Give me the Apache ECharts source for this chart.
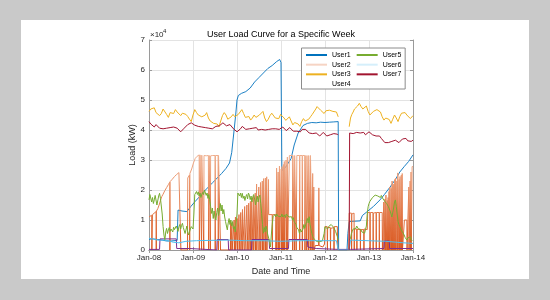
<!DOCTYPE html>
<html>
<head>
<meta charset="utf-8">
<script src="https://cdn.jsdelivr.net/npm/echarts/dist/echarts.min.js"></script>
<style>
html,body{margin:0;padding:0;background:#c9c9c9;}
#panel{position:absolute;left:21px;top:20px;width:508px;height:259px;background:#fff;}
#main{position:absolute;left:0;top:0;width:550px;height:300px;}
</style>
</head>
<body>
<div id="panel"></div>
<div id="main"></div>
<script>
// x = day of January, y = load in units of 1e4 kW
var dayTicks = [8, 9, 10, 11, 12, 13, 14];
var dayLabels = ['Jan-08', 'Jan-09', 'Jan-10', 'Jan-11', 'Jan-12', 'Jan-13', 'Jan-14'];
var seriesNames = ['User1', 'User2', 'User3', 'User4', 'User5', 'User6', 'User7'];

var user1 = [[8.00,0.36],[8.10,0.37],[8.20,0.35],[8.30,0.33],[8.40,0.30],[8.50,0.30],[8.64,0.32],[8.66,1.33],[8.75,1.30],[8.86,1.28],
  [8.95,1.45],[9.05,1.62],[9.15,1.78],[9.25,1.95],[9.35,2.10],[9.45,2.25],[9.55,2.40],[9.65,2.55],[9.75,2.72],[9.83,2.90],
  [9.88,3.25],[9.92,3.80],[9.97,4.50],[10.00,5.00],[10.03,5.15],[10.10,5.22],[10.20,5.28],[10.30,5.40],[10.40,5.60],[10.50,5.75],
  [10.60,5.90],[10.70,6.05],[10.80,6.15],[10.90,6.28],[10.97,6.35],[11.00,6.25],[11.02,2.65],[11.10,2.75],[11.23,3.05],[11.30,3.50],
  [11.39,3.90],[11.50,4.15],[11.60,4.22],[11.70,4.25],[11.80,4.24],[11.90,4.26],[12.00,4.25],[12.10,4.26],[12.20,4.27],[12.30,4.28],
  [12.31,0],[12.50,0],[12.52,0.55],[12.55,0.95],[12.80,0.97],[12.85,1.15],[13.00,1.33],[13.10,1.45],[13.25,1.67],[13.35,1.85],
  [13.48,2.10],[13.60,2.35],[13.70,2.60],[13.80,2.78],[13.90,2.95],[14.00,3.17]];

var user2 = [[8.00,1.10],[8.03,1.13],[8.06,1.16],[8.065,0],[8.075,0],[8.08,1.18],[8.12,1.22],[8.16,1.28],[8.165,0],[8.17,1.30],
  [8.20,1.38],[8.23,1.50],[8.26,1.65],[8.29,1.78],[8.32,1.86],[8.36,1.98],[8.40,2.08],[8.44,2.18],[8.47,2.26],[8.475,0],
  [8.48,2.28],[8.53,2.36],[8.58,2.45],[8.63,2.52],[8.68,2.58],[8.72,2.63],[8.725,0],[8.875,0],
  [8.88,2.40],[8.92,2.50],[8.925,0],[8.93,2.55],[8.97,2.70],[9.01,2.90],[9.05,3.05],[9.09,3.12],[9.12,3.17],[9.14,3.17],[9.145,0],
  [9.155,0],[9.16,3.17],[9.19,3.16],[9.195,0],[9.20,3.16],[9.24,3.15],[9.245,0],[9.25,3.15],[9.30,3.14],[9.35,3.15],[9.355,0],
  [9.365,0],[9.37,3.15],[9.39,3.15],[9.395,0],[9.40,3.14],[9.45,3.15],[9.50,3.15],[9.505,0],[9.51,3.15],[9.57,3.15],[9.575,0],
  [9.58,3.15],[9.62,3.15],[9.625,0],
  [9.85,0],[9.855,0.95],[9.86,0],[9.88,0],[9.885,0.90],[9.89,0],[9.93,0],[9.935,1.00],[9.94,0],
  [9.96,0],[9.965,1.10],[9.97,0],[10.00,0],[10.005,1.05],[10.01,0],[10.04,0],[10.045,1.18],[10.05,0],[10.08,0],[10.085,1.25],[10.09,0],
  [10.12,0],[10.125,1.35],[10.13,0],[10.17,0],[10.175,1.45],[10.18,0],[10.22,0],[10.225,1.50],[10.23,0],[10.26,0],[10.265,1.56],[10.27,0],
  [10.30,0],[10.305,1.62],[10.31,0],[10.33,0],[10.335,1.72],[10.34,0],[10.37,0],[10.375,1.80],[10.38,0],[10.41,0],[10.415,1.90],[10.42,0],
  [10.44,0],[10.445,2.20],[10.45,0],[10.49,0],[10.495,2.10],[10.50,0],[10.53,0],[10.535,2.25],[10.54,0],[10.57,0],[10.575,2.30],[10.58,0],
  [10.60,0],[10.605,2.38],[10.61,0],[10.64,0],[10.645,2.40],[10.65,0],[10.67,0],[10.675,2.44],[10.68,0],[10.71,0],[10.715,2.35],
  [10.72,1.18],[10.80,1.18],[10.805,0],[10.81,1.18],[10.88,1.18],[10.885,0],[10.895,0],[10.90,2.73],[10.905,0],
  [10.93,0],[10.935,2.60],[10.94,0],[10.96,0],[10.965,2.80],[10.97,0],[11.00,0],[11.005,2.70],[11.01,0],[11.02,0],[11.025,2.78],[11.03,0],
  [11.05,0],[11.055,2.85],[11.06,0],[11.07,0],[11.075,2.95],[11.08,0],[11.11,0],[11.115,3.00],[11.12,0],[11.14,0],[11.145,3.10],[11.15,0],
  [11.18,0],[11.19,3.15],[11.26,3.15],[11.265,0],[11.27,3.15],[11.30,3.15],[11.305,0],[11.31,3.15],[11.34,3.15],[11.345,0],
  [11.355,0],[11.36,3.15],[11.42,3.15],[11.425,0],[11.43,3.15],[11.48,3.15],[11.485,0],[11.49,3.15],[11.54,3.15],[11.545,0],
  [11.55,3.15],[11.58,3.15],[11.585,0],[11.59,3.15],[11.62,3.15],[11.625,0],[11.63,3.15],[11.66,3.15],[11.665,0],[11.67,3.15],
  [11.70,3.15],[11.705,0],[11.715,0],[11.72,2.55],[11.725,0],[11.74,0],[11.745,2.10],[11.75,0],[11.78,0.15],[11.82,0.12],
  [11.855,0.15],[11.86,2.07],[11.865,0.15],[11.90,0.18],[11.95,0.10],[11.99,0.20],[12.00,0.78],[12.05,0.78],[12.055,0],
  [12.06,0.75],[12.12,0.75],[12.125,0],[12.13,0.72],[12.20,0.75],[12.205,0],[12.21,0.78],[12.28,0.78],[12.29,0],
  [12.54,0],[12.55,1.23],[12.60,1.23],[12.605,0],[12.61,1.20],[12.66,1.23],[12.665,0],[12.67,0.70],[12.72,0.70],[12.725,0],
  [12.73,0.68],[12.80,0.70],[12.805,0],[12.81,0.68],[12.88,0.68],[12.885,0],[12.89,0.70],[12.96,0.68],[12.97,1.25],[13.02,1.25],
  [13.025,0],[13.03,1.25],[13.09,1.25],[13.095,0],[13.10,1.23],[13.16,1.25],[13.165,0],[13.17,1.25],[13.23,1.25],[13.235,0],
  [13.24,1.25],[13.30,1.25],[13.305,0],[13.33,0],[13.335,1.60],[13.34,0],[13.36,0],[13.365,1.70],[13.37,0],[13.38,0],[13.385,1.83],[13.39,0],
  [13.41,0],[13.415,1.65],[13.42,0],[13.43,0],[13.435,1.75],[13.44,0],[13.45,0],[13.455,1.95],[13.46,0],[13.47,0],[13.475,2.10],[13.48,0],
  [13.50,0],[13.505,2.05],[13.51,0],[13.52,0],[13.525,2.30],[13.53,0],[13.54,0],[13.545,2.15],[13.55,0],[13.56,0],[13.565,2.20],[13.57,0],
  [13.58,0],[13.585,2.35],[13.59,0],[13.60,0],[13.605,2.40],[13.61,0],[13.63,0],[13.635,2.30],[13.64,0],[13.65,0],[13.655,2.57],[13.66,0],
  [13.68,0],[13.685,2.35],[13.69,0],[13.70,0],[13.705,2.45],[13.71,0],[13.73,0],[13.735,2.50],[13.74,0],[13.75,0],[13.755,2.55],[13.76,0],
  [13.80,0],[13.805,1.00],[13.86,1.00],[13.865,0],[13.90,0],[13.905,2.10],[13.91,0],[13.93,0],[13.935,2.30],[13.94,0],
  [13.95,0],[13.955,2.60],[13.96,0],[13.975,0],[13.98,2.78],[14.00,2.78]];

var user3 = [[8.00,4.62],[8.04,4.70],[8.08,4.66],[8.12,4.74],[8.16,4.58],[8.20,4.62],[8.24,4.48],[8.28,4.55],[8.32,4.70],[8.36,4.66],
  [8.40,4.52],[8.44,4.42],[8.48,4.58],[8.52,4.62],[8.56,4.55],[8.60,4.68],[8.64,4.60],[8.68,4.62],[8.72,4.48],[8.76,4.56],
  [8.80,4.60],[8.84,4.52],[8.88,4.45],[8.92,4.36],[8.96,4.28],[9.00,4.50],[9.04,4.68],[9.08,4.58],[9.12,4.50],[9.16,4.56],
  [9.20,4.44],[9.24,4.38],[9.28,4.50],[9.31,4.58],[9.35,4.40],[9.39,4.30],[9.43,4.34],[9.47,4.22],[9.51,4.17],[9.55,4.20],
  [9.59,4.11],[9.63,4.30],[9.67,4.48],[9.71,4.58],[9.75,4.50],[9.79,4.36],[9.83,4.32],[9.87,4.44],[9.91,4.52],[9.95,4.44],
  [9.99,4.40],[10.03,4.52],[10.07,4.58],[10.11,4.68],[10.15,4.55],[10.19,4.42],[10.23,4.36],[10.27,4.45],[10.31,4.33],[10.35,4.40],
  [10.39,4.50],[10.43,4.42],[10.47,4.38],[10.51,4.50],[10.55,4.48],[10.59,4.62],[10.63,4.40],[10.67,4.28],[10.71,4.36],[10.75,4.48],
  [10.79,4.56],[10.83,4.50],[10.87,4.40],[10.91,4.44],[10.95,4.38],[10.99,4.52],[11.03,4.48],[11.07,4.40],[11.11,4.32],[11.15,4.38],
  [11.19,4.44],[11.23,4.30],[11.27,4.17],[11.31,4.25],[11.35,4.30],[11.39,4.20],[11.43,4.12],[11.47,4.28],[11.51,4.38],[11.55,4.30],
  [11.59,4.26],[11.63,4.36],[11.67,4.44],[11.71,4.52],[11.75,4.58],[11.79,4.70],[11.82,4.78],[11.86,4.72],[11.90,4.66],[11.94,4.60],
  [11.98,4.55],[12.02,4.64],[12.06,4.70],[12.10,4.66],[12.14,4.70],[12.18,4.62],[12.22,4.68],[12.26,4.60],[12.30,4.44],[12.42,'-'],
  [12.55,4.11],[12.58,4.40],[12.61,4.52],[12.64,4.60],[12.67,4.70],[12.70,4.66],[12.74,4.80],[12.78,4.89],[12.82,4.78],[12.86,4.70],
  [12.90,4.76],[12.94,4.80],[12.98,4.62],[13.02,4.50],[13.06,4.56],[13.10,4.62],[13.14,4.58],[13.18,4.68],[13.22,4.64],[13.26,4.60],
  [13.30,4.44],[13.34,4.33],[13.38,4.40],[13.42,4.46],[13.46,4.35],[13.50,4.22],[13.54,4.36],[13.58,4.50],[13.62,4.40],[13.66,4.28],
  [13.70,4.45],[13.74,4.56],[13.78,4.62],[13.82,4.58],[13.86,4.50],[13.90,4.44],[13.94,4.38],[13.98,4.33],[14.00,4.48]];

var user4 = [[8.00,0.02],[8.24,0.02],[8.25,0.37],[8.62,0.37],[8.63,0.05],[8.92,0.05],[8.93,0],[9.54,0],[9.55,0.35],[9.80,0.35],
  [9.81,0],[10.33,0],[10.34,0.35],[10.73,0.35],[10.74,0.05],[11.17,0.05],[11.18,0.35],[11.60,0.35],[11.61,0.10],[11.80,0.05],
  [12.30,0.02],[12.58,0.02],[12.60,0.05],[13.34,0.05],[13.35,0.30],[13.46,0.30],[13.47,0.05],[14.00,0.05]];

var user5 = [[8.00,1.67],[8.02,1.85],[8.04,1.90],[8.06,1.60],[8.08,1.75],[8.10,1.55],[8.12,1.67],[8.14,1.82],[8.16,1.78],[8.18,1.50],
  [8.20,1.56],[8.22,1.80],[8.24,1.89],[8.26,1.72],[8.28,1.70],[8.30,1.20],[8.32,0.78],[8.34,0.50],[8.36,0.33],[8.38,0.60],
  [8.40,0.72],[8.42,0.55],[8.44,0.67],[8.46,0.75],[8.48,0.62],[8.50,0.70],[8.52,0.72],[8.54,0.60],[8.56,0.76],[8.58,0.68],
  [8.60,0.67],[8.62,0.80],[8.64,0.72],[8.66,0.62],[8.68,0.78],[8.70,0.85],[8.72,0.70],[8.74,0.82],[8.76,0.89],[8.78,0.75],
  [8.80,0.70],[8.82,0.55],[8.84,0.67],[8.86,0.80],[8.88,0.60],[8.90,0.50],[8.92,0.56],[8.94,0.70],[8.96,0.78],[9.00,0.70],
  [9.02,1.20],[9.04,1.85],[9.06,1.80],[9.08,1.95],[9.10,1.85],[9.12,1.94],[9.14,1.80],[9.16,1.90],[9.18,1.75],[9.20,1.85],
  [9.22,1.92],[9.24,1.85],[9.26,2.00],[9.28,1.94],[9.30,1.82],[9.32,1.90],[9.34,1.72],[9.36,1.85],[9.38,1.67],[9.40,1.45],
  [9.42,1.22],[9.44,1.40],[9.46,1.05],[9.48,1.30],[9.50,1.10],[9.52,1.00],[9.54,1.25],[9.56,1.40],[9.58,1.15],[9.60,1.33],
  [9.62,1.55],[9.64,1.30],[9.66,1.50],[9.68,1.20],[9.70,1.35],[9.72,1.10],[9.74,0.95],[9.76,0.80],[9.78,0.67],[9.80,0.90],
  [9.82,1.05],[9.84,0.85],[9.86,1.00],[9.88,0.80],[9.90,0.95],[9.92,0.70],[9.94,0.78],[9.96,0.60],[9.98,0.56],[10.00,1.20],
  [10.02,1.90],[10.04,1.94],[10.06,1.80],[10.08,1.90],[10.10,1.75],[10.12,1.89],[10.14,1.72],[10.16,1.80],[10.18,1.65],[10.20,1.78],
  [10.22,1.85],[10.24,1.70],[10.26,1.90],[10.28,1.83],[10.30,1.68],[10.32,1.80],[10.34,1.60],[10.36,1.78],[10.38,1.85],[10.40,1.70],
  [10.42,1.50],[10.44,1.67],[10.46,1.80],[10.48,1.60],[10.50,1.75],[10.52,1.83],[10.54,1.55],[10.56,1.22],[10.58,0.85],[10.60,0.56],
  [10.62,0.75],[10.64,0.60],[10.66,0.80],[10.68,0.67],[10.70,0.50],[10.72,0.40],[10.74,0.25],[10.76,0.10],[10.78,0.50],[10.80,0.85],
  [10.82,1.11],[10.84,1.11],[10.86,1.18],[10.88,1.10],[10.90,1.20],[10.92,1.22],[10.94,1.12],[10.96,1.15],[10.98,1.08],[11.00,1.11],
  [11.02,1.20],[11.04,1.10],[11.06,1.15],[11.08,1.17],[11.10,1.08],[11.12,1.20],[11.14,1.15],[11.16,1.22],[11.18,1.10],[11.20,1.15],
  [11.22,1.05],[11.24,1.11],[11.26,1.00],[11.28,1.08],[11.30,0.95],[11.32,1.00],[11.34,0.85],[11.36,0.75],[11.38,0.80],[11.40,0.67],
  [11.42,0.55],[11.44,0.70],[11.46,0.60],[11.48,0.56],[11.50,0.70],[11.52,0.85],[11.54,0.72],[11.56,0.78],[11.58,0.95],[11.60,1.05],
  [11.62,0.90],[11.64,1.11],[11.66,0.85],[11.68,0.70],[11.70,0.56],[11.72,0.45],[11.74,0.40],[11.76,0.35],[11.78,0.30],[11.80,0.33],
  [11.82,0.28],[11.85,0.30],[11.88,0.28],[11.91,0.33],[11.94,0.30],[11.96,0.33],[11.98,0.55],[12.00,0.78],[12.02,0.72],[12.04,0.80],
  [12.06,0.70],[12.08,0.78],[12.10,0.82],[12.12,0.75],[12.14,0.85],[12.16,0.80],[12.18,0.89],[12.20,0.75],[12.22,0.70],[12.24,0.62],
  [12.26,0.56],[12.28,0.45],[12.30,0.33],[12.42,'-'],
  [12.56,0.33],[12.58,0.40],[12.60,0.55],[12.62,0.62],[12.64,0.70],[12.66,0.67],[12.68,0.75],[12.70,0.72],[12.72,0.80],[12.74,0.78],
  [12.76,0.70],[12.78,0.74],[12.80,0.66],[12.82,0.67],[12.84,0.60],[12.86,0.64],[12.88,0.58],[12.90,0.56],[12.92,0.62],[12.94,0.80],
  [12.96,1.20],[12.98,1.44],[13.00,1.55],[13.02,1.62],[13.04,1.58],[13.06,1.67],[13.08,1.75],[13.10,1.70],[13.12,1.80],[13.14,1.83],
  [13.16,1.78],[13.18,1.86],[13.20,1.80],[13.22,1.78],[13.24,1.84],[13.26,1.75],[13.28,1.82],[13.30,1.78],[13.32,1.70],[13.34,1.75],
  [13.36,1.62],[13.38,1.67],[13.40,1.55],[13.42,1.60],[13.44,1.45],[13.46,1.50],[13.48,1.30],[13.50,1.20],[13.52,1.10],[13.54,1.11],
  [13.56,1.40],[13.58,1.60],[13.60,1.67],[13.62,1.45],[13.64,1.20],[13.66,0.95],[13.68,0.85],[13.70,0.78],[13.72,0.70],[13.74,0.65],
  [13.76,0.60],[13.78,0.56],[13.80,0.50],[13.82,0.42],[13.84,0.38],[13.86,0.33],[13.88,0.40],[13.90,0.45],[13.92,0.38],[13.94,0.44],
  [13.96,0.36],[13.98,0.30],[14.00,0.33]];

var user6 = [[8.00,0.39],[8.10,0.36],[8.20,0.33],[8.35,0.33],[8.44,0.31],[8.55,0.26],[8.68,0.24],[8.84,0.29],[9.08,0.31],[9.39,0.32],
  [9.79,0.33],[10.19,0.31],[10.59,0.31],[10.99,0.29],[11.39,0.31],[11.79,0.31],[12.26,0.31],[12.30,0],[12.55,0],[12.58,0.33],
  [12.98,0.31],[13.38,0.29],[13.78,0.24],[14.00,0.22]];

var user7 = [[8.00,4.28],[8.04,4.20],[8.08,4.16],[8.12,4.10],[8.16,4.18],[8.20,4.14],[8.24,4.06],[8.28,4.10],[8.32,4.04],[8.36,4.00],
  [8.40,4.06],[8.44,4.02],[8.48,4.08],[8.52,4.04],[8.56,4.10],[8.60,4.12],[8.64,4.06],[8.68,4.00],[8.72,3.94],[8.76,3.98],
  [8.80,4.06],[8.84,4.12],[8.88,4.18],[8.92,4.20],[8.96,4.24],[9.00,4.22],[9.04,4.16],[9.08,4.20],[9.12,4.12],[9.16,4.06],
  [9.20,4.10],[9.24,4.04],[9.28,4.08],[9.32,4.12],[9.36,4.06],[9.40,4.10],[9.44,4.04],[9.48,4.08],[9.52,4.12],[9.56,4.06],
  [9.60,4.14],[9.64,4.18],[9.68,4.24],[9.72,4.20],[9.76,4.14],[9.80,4.10],[9.84,4.18],[9.88,4.12],[9.92,4.04],[9.96,3.98],
  [10.00,3.94],[10.04,3.96],[10.08,4.04],[10.12,4.12],[10.16,4.08],[10.20,4.02],[10.24,4.08],[10.28,4.04],[10.32,3.98],[10.36,4.06],
  [10.40,4.02],[10.44,4.08],[10.48,4.00],[10.52,4.06],[10.56,4.02],[10.60,4.08],[10.64,4.00],[10.68,3.96],[10.72,4.02],[10.76,3.96],
  [10.80,4.04],[10.84,3.98],[10.88,4.04],[10.92,4.08],[10.96,4.02],[11.00,4.04],[11.04,4.10],[11.08,4.04],[11.12,3.98],[11.16,4.04],
  [11.20,4.08],[11.24,4.02],[11.28,3.96],[11.32,4.02],[11.36,3.96],[11.40,4.00],[11.44,3.94],[11.48,4.02],[11.52,3.96],[11.56,4.02],
  [11.60,3.96],[11.64,3.90],[11.68,3.96],[11.72,3.88],[11.76,3.84],[11.80,3.90],[11.84,3.86],[11.88,3.80],[11.92,3.86],[11.96,3.92],
  [12.00,3.86],[12.04,3.80],[12.08,3.76],[12.12,3.84],[12.16,3.78],[12.20,3.88],[12.24,3.84],[12.28,3.86],[12.30,3.83],[12.42,'-'],
  [12.55,0],[12.56,3.90],[12.60,3.84],[12.64,3.88],[12.68,3.82],[12.72,3.92],[12.76,3.86],[12.80,3.90],[12.84,3.86],[12.88,3.92],
  [12.92,3.84],[12.96,3.88],[13.00,3.94],[13.04,3.90],[13.08,3.84],[13.12,3.88],[13.16,3.80],[13.20,3.76],[13.24,3.80],[13.28,3.72],
  [13.32,3.66],[13.36,3.58],[13.40,3.52],[13.44,3.58],[13.48,3.54],[13.52,3.62],[13.56,3.60],[13.60,3.66],[13.64,3.62],[13.68,3.58],
  [13.72,3.64],[13.76,3.70],[13.80,3.66],[13.84,3.72],[13.88,3.64],[13.92,3.70],[13.96,3.62],[14.00,3.66]];

var seriesData = [user1, user2, user3, user4, user5, user6, user7];
var seriesColors = ['#0072BD', '#D95319', '#EDB120', '#7E2F8E', '#77AC30', '#4DBEEE', '#A2142F'];

var font = 'Arial, "Liberation Sans", Helvetica, sans-serif';
var axisGray = '#9a9a9a';
var textColor = '#262626';

var myChart = echarts.init(document.getElementById('main'), null, {renderer: 'canvas'});

var series = seriesNames.map(function (name, i) {
  var color = seriesColors[i];
  if (name === 'User2') {
    // spikes fade toward the top like in the picture
    color = new echarts.graphic.LinearGradient(0, 1, 0, 0, [
      {offset: 0, color: '#D95319'},
      {offset: 1, color: '#F0B08F'}
    ]);
  }
  return {
    name: name,
    type: 'line',
    data: seriesData[i],
    symbol: 'none',
    animation: false,
    connectNulls: false,
    itemStyle: {color: seriesColors[i]},
    lineStyle: {color: color, width: name === 'User1' ? 0.9 : 1}
  };
});

var option = {
  animation: false,
  textStyle: {fontFamily: font},
  grid: {left: 149, right: 137, top: 40, bottom: 50, containLabel: false},
  legend: {
    orient: 'vertical',
    left: 301.5,
    top: 48,
    height: 36.5,
    itemWidth: 21,
    itemHeight: 7,
    itemGap: 2.67,
    padding: [3.5, 1.5, 1.5, 3.5],
    backgroundColor: '#fff',
    borderColor: '#8c8c8c',
    borderWidth: 1,
    borderRadius: 0,
    itemStyle: {opacity: 0, borderWidth: 0},
    textStyle: {fontSize: 7, lineHeight: 7, color: '#000', width: 21, fontFamily: font},
    data: [
      {name: 'User1'},
      {name: 'User2', lineStyle: {color: '#F6D4C4'}},
      {name: 'User3'},
      {name: 'User4', lineStyle: {opacity: 0}},
      {name: 'User5'},
      {name: 'User6', lineStyle: {color: '#D5EFFB'}},
      {name: 'User7'}
    ]
  },
  xAxis: [{
    type: 'value',
    min: 8, max: 14, interval: 1,
    name: 'Date and Time',
    nameLocation: 'middle',
    nameGap: 14,
    nameTextStyle: {fontSize: 9, color: textColor},
    axisLine: {show: true, lineStyle: {color: axisGray}},
    axisTick: {inside: true, length: 3, lineStyle: {color: axisGray}},
    axisLabel: {
      fontSize: 8, color: textColor, margin: 4,
      formatter: function (v) {
        var k = dayTicks.indexOf(v);
        return k >= 0 ? dayLabels[k] : '';
      }
    },
    splitLine: {show: true, lineStyle: {color: '#e3e3e3'}}
  }, {
    type: 'value',
    position: 'top',
    min: 8, max: 14, interval: 1,
    axisLine: {show: true, lineStyle: {color: axisGray}},
    axisTick: {inside: true, length: 3, lineStyle: {color: axisGray}},
    axisLabel: {show: false},
    splitLine: {show: false}
  }],
  yAxis: [{
    type: 'value',
    min: 0, max: 7, interval: 1,
    name: 'Load (kW)',
    nameLocation: 'middle',
    nameGap: 12,
    nameTextStyle: {fontSize: 9, color: textColor},
    axisLine: {show: true, lineStyle: {color: axisGray}},
    axisTick: {show: true, inside: true, length: 3, lineStyle: {color: axisGray}},
    axisLabel: {fontSize: 8, color: textColor, margin: 4},
    splitLine: {show: true, lineStyle: {color: '#e3e3e3'}}
  }, {
    type: 'value',
    position: 'right',
    min: 0, max: 7, interval: 1,
    axisLine: {show: true, lineStyle: {color: axisGray}},
    axisTick: {show: true, inside: true, length: 3, lineStyle: {color: axisGray}},
    axisLabel: {show: false},
    splitLine: {show: false}
  }],
  graphic: [
    {type: 'text', x: 281, y: 35, style: {text: 'User Load Curve for a Specific Week', align: 'center', verticalAlign: 'middle', fontSize: 9, fontFamily: font, fill: '#000'}},
    {type: 'text', x: 150, y: 35, style: {text: '\u00d710', align: 'left', verticalAlign: 'middle', fontSize: 8, fontFamily: font, fill: textColor}},
    {type: 'text', x: 163, y: 31.5, style: {text: '4', align: 'left', verticalAlign: 'middle', fontSize: 6, fontFamily: font, fill: textColor}}
  ],
  series: series
};

myChart.setOption(option);
</script>
</body>
</html>
